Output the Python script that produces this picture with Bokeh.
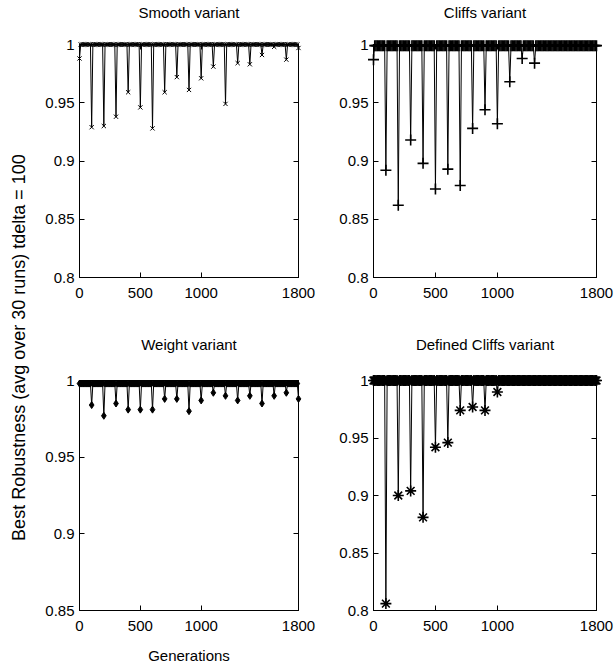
import math
from bokeh.plotting import figure
from bokeh.layouts import row, column
from bokeh.models import LinearAxis, FixedTicker, Range1d, Label, CustomJSTickFormatter
from bokeh.embed import file_html
from bokeh.resources import INLINE

# ---------------- data ----------------
generations = list(range(0, 1801, 10))          # sampled generations
x_ticks = [0, 500, 1000, 1800]
y_ticks_a = [0.8, 0.85, 0.9, 0.95, 1.0]
y_ticks_b = [0.85, 0.9, 0.95, 1.0]

smooth_dip_gens = [0, 100, 200, 300, 400, 500, 600, 700, 800, 900, 1000,
                   1100, 1200, 1300, 1400, 1500, 1600, 1700, 1800]
smooth_dip_vals = [0.988, 0.929, 0.930, 0.938, 0.959, 0.946, 0.928, 0.959, 0.972, 0.961, 0.971,
                   0.981, 0.949, 0.984, 0.983, 0.991, 0.998, 0.987, 0.997]
smooth_plateau = 1.0

cliffs_dip_gens = [0, 100, 200, 300, 400, 500, 600, 700, 800, 900, 1000, 1100, 1200, 1300]
cliffs_dip_vals = [0.987, 0.892, 0.862, 0.918, 0.898, 0.876, 0.893, 0.879, 0.928, 0.944, 0.932,
                   0.968, 0.988, 0.984]
cliffs_plateau = 0.999

weight_dip_gens = [100, 200, 300, 400, 500, 600, 700, 800, 900, 1000,
                   1100, 1200, 1300, 1400, 1500, 1600, 1700, 1800]
weight_dip_vals = [0.984, 0.977, 0.985, 0.981, 0.981, 0.981, 0.988, 0.988, 0.980, 0.987,
                   0.992, 0.990, 0.987, 0.990, 0.985, 0.990, 0.992, 0.988]
weight_plateau = 0.998

dcliffs_dip_gens = [100, 200, 300, 400, 500, 600, 700, 800, 900, 1000]
dcliffs_dip_vals = [0.806, 0.900, 0.904, 0.881, 0.942, 0.946, 0.974, 0.977, 0.974, 0.990]
dcliffs_plateau = 1.0

titles = ["Smooth variant", "Cliffs variant", "Weight variant", "Defined Cliffs variant"]
y_label_text = "Best Robustness (avg over 30 runs) tdelta = 100"
x_label_text = "Generations"

FONT = "Liberation Sans"


def series(dip_gens, dip_vals, plateau):
    vals = [plateau] * len(generations)
    for g, v in zip(dip_gens, dip_vals):
        vals[generations.index(g)] = v
    return vals


def style_axis(ax):
    ax.major_tick_in = 5
    ax.major_tick_out = 0
    ax.minor_tick_line_color = None
    ax.axis_line_color = "black"
    ax.major_tick_line_color = "black"
    ax.major_label_text_font = FONT
    ax.major_label_text_font_size = "15px"
    ax.major_label_text_color = "black"
    ax.axis_label_text_font = FONT
    ax.axis_label_text_font_size = "15px"
    ax.axis_label_text_font_style = "normal"
    ax.axis_label_text_color = "black"


def panel(title, dip_gens, dip_vals, plateau, marker, msize, mlw, y_lo, y_ticks,
          w, h, bl, br, bt, bb, t_standoff, xlabel=None):
    vals = series(dip_gens, dip_vals, plateau)
    p = figure(width=w, height=h, x_range=Range1d(0, 1800), y_range=Range1d(y_lo, 1.0),
               output_backend="svg", toolbar_location=None,
               min_border_left=bl, min_border_right=br, min_border_top=bt, min_border_bottom=bb)
    p.background_fill_color = "white"
    p.border_fill_color = "white"
    p.outline_line_color = "black"
    p.outline_line_width = 1
    p.grid.visible = False

    p.line(generations, vals, line_color="black", line_width=1)
    r = p.scatter(generations, vals, marker=marker, size=msize, line_color="black",
                  fill_color="black", line_width=mlw)
    r.level = "overlay"

    fmt = CustomJSTickFormatter(code="return String(tick)")
    blank = CustomJSTickFormatter(code="return ''")
    bottom = p.xaxis[0]
    bottom.ticker = FixedTicker(ticks=x_ticks)
    style_axis(bottom)
    bottom.major_label_standoff = 10
    if xlabel:
        bottom.axis_label = xlabel
        bottom.axis_label_standoff = 13

    left = p.yaxis[0]
    left.ticker = FixedTicker(ticks=y_ticks)
    left.formatter = fmt
    style_axis(left)
    left.major_label_standoff = 5

    rax = LinearAxis(ticker=FixedTicker(ticks=y_ticks), formatter=blank, major_label_standoff=0)
    style_axis(rax)
    p.add_layout(rax, "right")

    # top axis: box ticks + the panel title as its label
    tax = LinearAxis(ticker=FixedTicker(ticks=x_ticks), formatter=blank, major_label_standoff=0,
                     axis_label=title, axis_label_standoff=t_standoff)
    style_axis(tax)
    p.add_layout(tax, "above")
    return p


p1 = panel(titles[0], smooth_dip_gens, smooth_dip_vals, smooth_plateau, "x", 6, 1,
           0.8, y_ticks_a, 285, 320, 41, 25, 44, 43, 24)
p2 = panel(titles[1], cliffs_dip_gens, cliffs_dip_vals, cliffs_plateau, "cross", 11, 1.6,
           0.8, y_ticks_a, 292, 320, 50, 19, 44, 43, 24)
p3 = panel(titles[2], weight_dip_gens, weight_dip_vals, weight_plateau, "diamond", 7, 1,
           0.85, y_ticks_b, 285, 348, 41, 25, 57, 57, 28, xlabel=x_label_text)
p4 = panel(titles[3], dcliffs_dip_gens, dcliffs_dip_vals, dcliffs_plateau, "asterisk", 11, 1.6,
           0.8, y_ticks_a, 292, 348, 50, 19, 60, 58, 28)

strip = figure(width=38, height=668, x_range=Range1d(0, 1), y_range=Range1d(0, 1),
               x_axis_type=None, y_axis_type=None, output_backend="svg",
               toolbar_location=None, min_border=0)
strip.outline_line_color = None
strip.grid.visible = False
strip.background_fill_color = "white"
strip.border_fill_color = "white"
strip.add_layout(Label(x=0.474, y=0.4805, text=y_label_text, angle=math.pi / 2,
                       text_align="center", text_baseline="middle",
                       text_font=FONT, text_font_size="18px", text_color="black"))

layout = row(strip, column(row(p1, p2), row(p3, p4)))
open("out.html", "w").write(file_html(layout, INLINE))
